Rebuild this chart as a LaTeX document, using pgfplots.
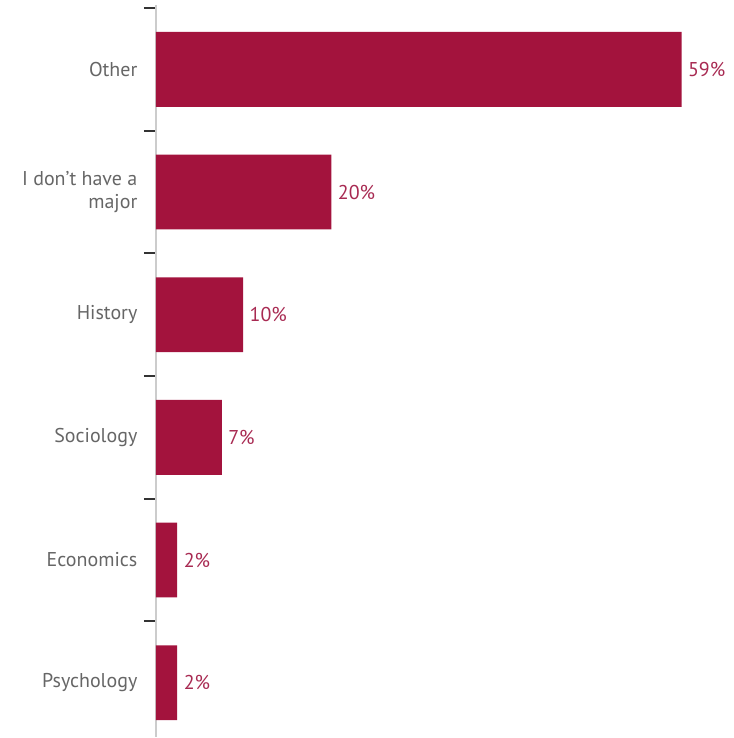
\documentclass[border=0pt]{standalone}
\usepackage{pgfplots}
\pgfplotsset{compat=1.18}
\usepackage{fontspec}
\setmainfont{PT Sans}
\definecolor{barred}{HTML}{A3133D}
\definecolor{valred}{HTML}{A82A52}
\definecolor{labgray}{HTML}{666666}
\definecolor{axgray}{HTML}{CCCCCC}
\begin{document}
\begin{tikzpicture}
\begin{axis}[
  name=ax,
  scale only axis,
  width=578pt, height=733pt,
  xbar, bar width=0.61,
  y dir=reverse,
  ymin=-0.525, ymax=5.445,
  xmin=0, xmax=64.8,
  axis x line=none,
  axis y line=left,
  y axis line style={-, draw=axgray, line width=1.5pt},
  ytick={0,1,2,3,4,5},
  yticklabels={Other, {I don't have a\\major}, History, Sociology, Economics, Psychology},
  yticklabel style={align=right, font=\fontsize{20}{23}\selectfont, text=labgray, xshift=-15pt},
  major tick length=0pt,
  minor ytick={-0.5,0.5,1.5,2.5,3.5,4.5},
  minor tick length=12pt,
  tick align=outside,
  minor tick style={draw=black!80, line width=1.8pt},
  nodes near coords={\pgfplotspointmeta\%},
  point meta=explicit symbolic,
  nodes near coords style={font=\fontsize{20}{23}\selectfont, text=valred, anchor=west, xshift=3pt},
  clip=false,
]
\addplot[fill=barred, draw=none] table[meta=label] {
x y label
59 0 59
19.7 1 20
9.8 2 10
7.4 3 7
2.4 4 2
2.4 5 2
};
\end{axis}
\path[use as bounding box] ([xshift=-156pt]ax.south west) rectangle ([yshift=5pt]ax.north east);
\end{tikzpicture}
\end{document}
